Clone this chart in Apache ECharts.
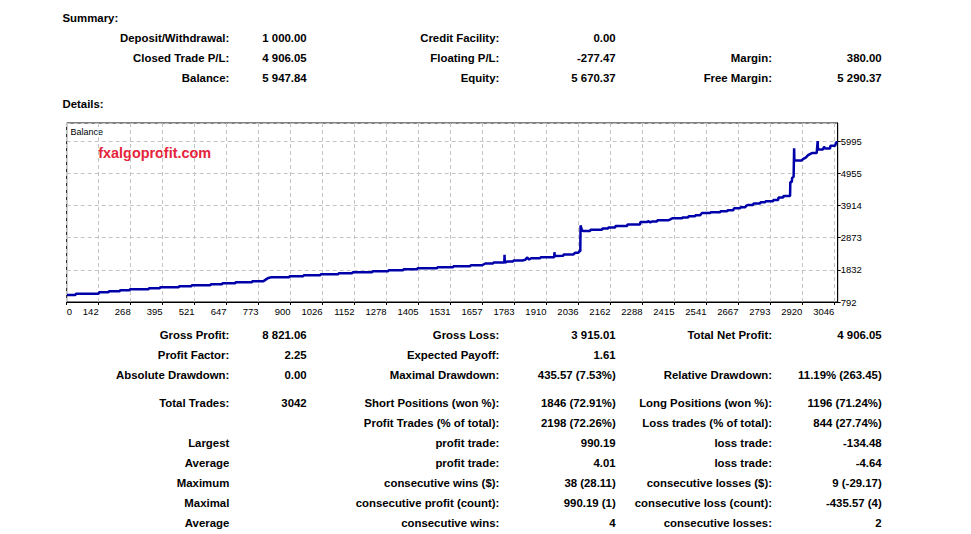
<!DOCTYPE html>
<html>
<head>
<meta charset="utf-8">
<script src="https://cdn.jsdelivr.net/npm/echarts@6/dist/echarts.min.js"></script>
<style>
html,body{margin:0;padding:0;background:#fff;}
#c{width:971px;height:534px;}
</style>
</head>
<body>
<div id="c"></div>
<script>
// ---------- data ----------
var tradeIndex = [17,50,52,142,143,181,182,225,226,264,265,339,340,383,384,458,459,508,509,583,584,629,630,681,682,747,748,792,804,812,823,894,895,950,951,1017,1018,1088,1089,1143,1144,1222,1223,1285,1286,1344,1345,1399,1400,1478,1479,1541,1542,1609,1610,1656,1668,1699,1700,1743,1744,1745,1755,1778,1779,1814,1826,1833,1841,1849,1885,1886,1940,1941,1942,1976,1977,2015,2023,2035,2039,2043,2044,2049,2054,2082,2083,2129,2130,2153,2154,2181,2182,2228,2229,2279,2280,2307,2311,2319,2327,2346,2347,2390,2398,2406,2445,2446,2469,2470,2496,2497,2516,2520,2524,2556,2557,2595,2596,2623,2624,2646,2650,2674,2675,2694,2698,2706,2725,2726,2753,2754,2773,2774,2804,2805,2824,2825,2844,2845,2871,2872,2878,2879,2885,2887,2888,2917,2922,2934,2942,2957,2976,2980,2981,3001,3005,3009,3029,3030,3049,3053,3058];
var balance = [1015,1015,1062,1062,1104,1104,1137,1137,1169,1169,1202,1202,1234,1234,1267,1267,1299,1299,1332,1332,1364,1364,1397,1397,1429,1429,1462,1462,1533,1572,1592,1592,1625,1625,1657,1657,1690,1690,1722,1722,1755,1755,1787,1787,1820,1820,1852,1852,1885,1885,1917,1917,1950,1950,1982,1982,2038,2038,2070,2070,2320,2070,2103,2103,2135,2135,2158,2233,2168,2210,2210,2242,2242,2405,2281,2288,2330,2330,2385,2385,2438,2438,3273,3133,3088,3088,3133,3133,3176,3176,3208,3208,3251,3251,3306,3306,3381,3381,3413,3371,3403,3403,3436,3436,3468,3501,3501,3533,3533,3566,3566,3598,3598,3647,3673,3673,3696,3696,3729,3729,3761,3761,3826,3826,3859,3859,3914,3933,3933,3979,3979,4021,4021,4054,4054,4096,4096,4174,4174,4226,4226,4681,4681,4811,4850,5768,5377,5377,5420,5475,5550,5615,5615,6005,5735,5735,5820,5768,5768,5852,5852,5972,5948];
var xTickLabels = ['0','142','268','395','521','647','773','900','1026','1152','1278','1405','1531','1657','1783','1910','2036','2162','2288','2415','2541','2667','2793','2920','3046'];
var yTickLabels = ['792','1832','2873','3914','4955','5995'];

var summaryTitle = 'Summary:';
var detailsTitle = 'Details:';
var sumLabels1 = ['Deposit/Withdrawal:','Closed Trade P/L:','Balance:'];
var sumValues1 = ['1 000.00','4 906.05','5 947.84'];
var sumLabels2 = ['Credit Facility:','Floating P/L:','Equity:'];
var sumValues2 = ['0.00','-277.47','5 670.37'];
var sumLabels3 = ['','Margin:','Free Margin:'];
var sumValues3 = ['','380.00','5 290.37'];

var detLabels1 = ['Gross Profit:','Profit Factor:','Absolute Drawdown:','Total Trades:','','Largest','Average','Maximum','Maximal','Average'];
var detValues1 = ['8 821.06','2.25','0.00','3042','','','','','',''];
var detLabels2 = ['Gross Loss:','Expected Payoff:','Maximal Drawdown:','Short Positions (won %):','Profit Trades (% of total):','profit trade:','profit trade:','consecutive wins ($):','consecutive profit (count):','consecutive wins:'];
var detValues2 = ['3 915.01','1.61','435.57 (7.53%)','1846 (72.91%)','2198 (72.26%)','990.19','4.01','38 (28.11)','990.19 (1)','4'];
var detLabels3 = ['Total Net Profit:','','Relative Drawdown:','Long Positions (won %):','Loss trades (% of total):','loss trade:','loss trade:','consecutive losses ($):','consecutive loss (count):','consecutive losses:'];
var detValues3 = ['4 906.05','','11.19% (263.45)','1196 (71.24%)','844 (27.74%)','-134.48','-4.64','9 (-29.17)','-435.57 (4)','2'];

var chartTitle = 'Balance';
var watermark = 'fxalgoprofit.com';

// ---------- layout ----------
var X_MIN = 15.74, X_INT = 126.26, X_MAX = 3059;
var Y_MIN = 792, Y_INT = 1040.6, Y_MAX = 6590;
var labelRight = [229.3, 499.3, 772];
var valueRight = [306.7, 615.7, 881.7];
var sumRowsY = [38.3, 58.3, 78.3];
var detRowsY = [335, 355, 375, 402.7, 422.7, 443.3, 463.3, 483.3, 503.3, 523.3];
var BOLD = 'bold 11.4px "Liberation Sans", Arial, sans-serif';

function txt(s, x, y, align, font, color) {
  return {
    type: 'text', x: x, y: y, silent: true,
    style: { text: s, font: font, fill: color || '#000',
      align: align, textAlign: align, verticalAlign: 'middle', textVerticalAlign: 'middle' }
  };
}
var els = [];
els.push(txt(summaryTitle, 62.5, 18.3, 'left', BOLD));
els.push(txt(detailsTitle, 62.5, 104, 'left', BOLD));
function addCols(labs, vals, rows, col) {
  for (var i = 0; i < rows.length; i++) {
    if (labs[i]) els.push(txt(labs[i], labelRight[col], rows[i], 'right', BOLD));
    if (vals[i]) els.push(txt(vals[i], valueRight[col], rows[i], 'right', BOLD));
  }
}
addCols(sumLabels1, sumValues1, sumRowsY, 0);
addCols(sumLabels2, sumValues2, sumRowsY, 1);
addCols(sumLabels3, sumValues3, sumRowsY, 2);
addCols(detLabels1, detValues1, detRowsY, 0);
addCols(detLabels2, detValues2, detRowsY, 1);
addCols(detLabels3, detValues3, detRowsY, 2);
els.push(txt(chartTitle, 70.5, 131.5, 'left', '9px "Liberation Sans", Arial, sans-serif', '#000'));
els.push(txt(watermark, 98.3, 152.5, 'left', 'bold 14.4px "Liberation Sans", Arial, sans-serif', '#E5233A'));

var seriesData = tradeIndex.map(function (t, i) { return [t, balance[i]]; });

var chart = echarts.init(document.getElementById('c'), null, { renderer: 'svg' });
chart.setOption({
  animation: false,
  backgroundColor: '#fff',
  grid: { left: 66.7, right: 133.3, top: 123, bottom: 232, show: true, borderColor: '#000', borderWidth: 1, containLabel: false },
  xAxis: {
    type: 'value', min: X_MIN, max: X_MAX, interval: X_INT,
    axisLine: { show: true, lineStyle: { color: '#000', width: 1 } },
    axisTick: { show: true, length: 3, lineStyle: { color: '#000' } },
    splitLine: { show: true, lineStyle: { color: '#c4c4c4', type: [4, 3], width: 1 } },
    axisLabel: {
      show: true, color: '#000', fontSize: 9.5, fontFamily: '"Liberation Sans", Arial, sans-serif',
      align: 'right', alignMinLabel: 'left', margin: 4, showMaxLabel: false, showMinLabel: true,
      formatter: function (v) { var k = Math.round((v - X_MIN) / X_INT); return xTickLabels[k] || ''; }
    }
  },
  yAxis: {
    type: 'value', position: 'right', min: Y_MIN, max: Y_MAX, interval: Y_INT,
    axisLine: { show: true, lineStyle: { color: '#000', width: 1 } },
    axisTick: { show: true, length: 3, lineStyle: { color: '#000' } },
    splitLine: { show: true, lineStyle: { color: '#c4c4c4', type: [4, 3], width: 1 } },
    axisLabel: {
      show: true, color: '#000', fontSize: 9.5, fontFamily: '"Liberation Sans", Arial, sans-serif',
      margin: 3, showMaxLabel: false, showMinLabel: true, verticalAlign: 'middle',
      formatter: function (v) { var k = Math.round((v - Y_MIN) / Y_INT); return yTickLabels[k] || ''; }
    }
  },
  series: [{
    type: 'line', data: seriesData, showSymbol: false, symbol: 'none',
    lineStyle: { color: '#0000AA', width: 2.5 }, clip: true
  }],
  graphic: { elements: els }
});
</script>
</body>
</html>
